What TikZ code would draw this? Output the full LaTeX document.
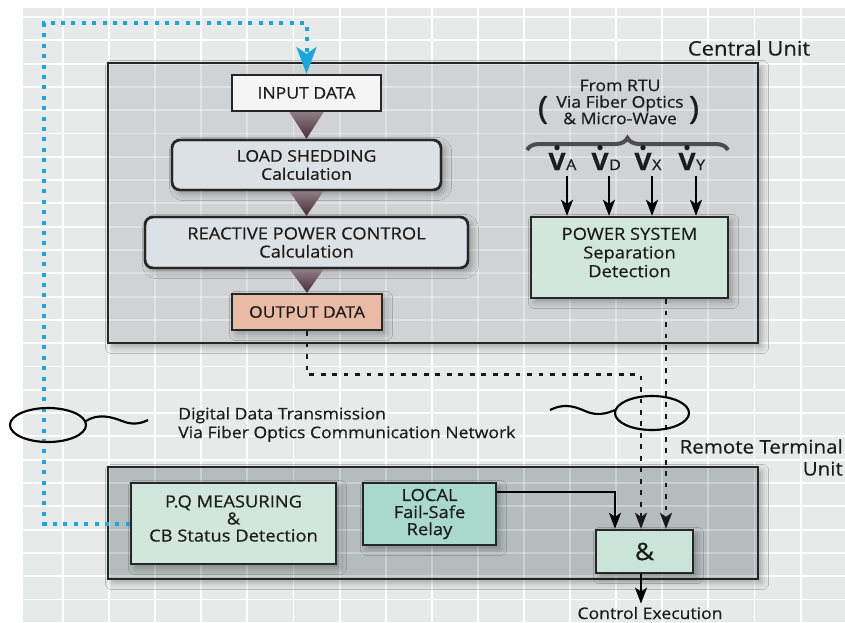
\documentclass[tikz,border=0pt]{standalone}
\usepackage{fontspec}
\setmainfont{Open Sans}[FakeStretch=1.1,FakeBold=0.5]
\usetikzlibrary{arrows.meta,decorations.pathreplacing,shadows.blur,calc,fit}
\definecolor{bg}{HTML}{E8EAEA}
\definecolor{cufill}{HTML}{CFD3D3}
\definecolor{rtufill}{HTML}{B5BDBC}
\definecolor{boxline}{HTML}{262626}
\definecolor{txt}{HTML}{1C1C1C}
\definecolor{lsfill}{HTML}{DCE1E5}
\definecolor{odfill}{HTML}{E9BBA5}
\definecolor{mint}{HTML}{D1E7DD}
\definecolor{teal}{HTML}{A9D9CC}
\definecolor{andfill}{HTML}{C9E5D9}
\definecolor{blueline}{HTML}{1AA7E0}
\definecolor{tritop}{HTML}{8E7E84}
\definecolor{tribot}{HTML}{4A2A36}
\newcommand\mygrid[1]{%
  \foreach \i in {0,...,17} \draw[white,line width=1.4pt,opacity=#1] ({63+46.1*\i},8) -- ({63+46.1*\i},622);
  \foreach \j in {0,...,25} \draw[white,line width=1.4pt,opacity=#1] (23,{17+23.3*\j}) -- (845,{17+23.3*\j});
}
\begin{document}
\begin{tikzpicture}[x=0.75pt,y=-0.75pt,
  box/.style={draw=boxline,line width=1.8pt,inner sep=0pt,align=center,text=txt},
  shad/.style={blur shadow={shadow xshift=3pt,shadow yshift=-3pt,shadow opacity=30,shadow blur radius=5pt}},
  bigbox/.style={draw=boxline,line width=1.4pt,inner sep=0pt},
  tri/.style={top color=tritop,bottom color=tribot},
  arr/.style={draw=black,line width=1.6pt,-{Stealth[length=12pt,width=9pt,inset=3pt]}},
  dotline/.style={draw=black!90,line width=2pt,dash pattern=on 3.6pt off 5pt,-{Stealth[length=12pt,width=9pt,inset=3pt]}},
  blue/.style={draw=blueline,line width=3pt,dash pattern=on 3pt off 4.8pt,-{Stealth[length=20pt,width=15pt,inset=5pt]}},
  lbl/.style={text=txt,inner sep=0pt,align=center},
  bt/.style={lbl,font=\fontsize{12}{13.6}\selectfont}]
\useasboundingbox (0,0) rectangle (845,622);
\clip (0,0) rectangle (845,622);
\fill[white] (0,0) rectangle (845,622);
\fill[bg] (23,8) rectangle (845,622);
\mygrid{1}
% big boxes
\node[bigbox,shad,fill=cufill,fit={(108,63) (758,343)}] (cu) {};
\node[bigbox,shad,fill=rtufill,fit={(108,467) (758,579)}] (rtu) {};
\begin{scope}
\clip (108,63) rectangle (758,343);
\mygrid{0.35}
\end{scope}
\begin{scope}
\clip (108,467) rectangle (758,579);
\mygrid{0.3}
\end{scope}
\draw[boxline,line width=1.4pt] (108,63) rectangle (758,343);
\draw[boxline,line width=1.4pt] (108,467) rectangle (758,579);
% labels of units
\node[lbl,font=\fontsize{15}{16}\selectfont] (cul) at (749,48) {Central Unit};
\node[lbl,anchor=north east,align=right,font=\fontsize{14}{16.5}\selectfont] (rtul) at (843,439) {Remote Terminal\\Unit};
% central boxes
\node[box,fit={(232,75) (381,111)},fill=white!96!black] (in) {};
\node[bt] at (in.center) {INPUT DATA};
\node[box,shad,rounded corners=6pt,fit={(172,140) (441,190)},fill=lsfill] (ls) {};
\node[bt] at (ls.center) {LOAD SHEDDING\\Calculation};
\node[box,shad,rounded corners=6pt,fit={(145,217) (468,268)},fill=lsfill] (rp) {};
\node[lbl,font=\fontsize{12.5}{13.6}\selectfont] at (rp.center) {REACTIVE POWER CONTROL\\Calculation};
\node[box,shad,fit={(232,294) (382,330)},fill=odfill] (od) {};
\node[bt] at (od.center) {OUTPUT DATA};
% triangles
\shade[tri] ($(in.south)+(-17,0)$) -- ($(in.south)+(17,0)$) -- (ls.north) -- cycle;
\shade[tri] ($(ls.south)+(-17,0)$) -- ($(ls.south)+(17,0)$) -- (rp.north) -- cycle;
\shade[tri] ($(rp.south)+(-17,0)$) -- ($(rp.south)+(17,0)$) -- (od.north) -- cycle;
\draw[boxline,line width=1.8pt] (232,75) rectangle (381,111);
\draw[boxline,line width=1.8pt,rounded corners=6pt] (172,140) rectangle (441,190);
\draw[boxline,line width=1.8pt,rounded corners=6pt] (145,217) rectangle (468,268);
\draw[boxline,line width=1.8pt] (232,294) rectangle (382,330);
% power system
\node[box,shad,fit={(531,217) (728,298)},fill=mint] (ps) {};
\node[lbl,font=\fontsize{12.5}{14}\selectfont] at ($(ps.center)+(0,-5)$) {POWER SYSTEM\\Separation\\Detection};
% From RTU
\node[lbl,font=\fontsize{12}{12.4}\selectfont] (rtu-t) at (620,102) {From RTU\\Via Fiber Optics\\\& Micro-Wave};
\node[lbl,font=\fontsize{24}{24}\selectfont] (lp) at (543,110) {(};
\node[lbl,font=\fontsize{24}{24}\selectfont] (rp2) at (694,110) {)};
\draw[black!70,line width=3pt,decorate,
  decoration={brace,amplitude=9pt}] (527,150) -- (728,150);
% V labels
\foreach \n/\x/\s in {a/557/A,d/600/D,x/643/X,y/687/Y}{
  \node[lbl,anchor=base,font=\fontsize{18}{18}\selectfont\bfseries] (v\n) at (\x,170) {V};
  \node[lbl,anchor=base west,font=\fontsize{11}{11}\selectfont] (s\n) at ($(v\n.base east)+(0,0)$) {\s};
  \fill[txt] ($(v\n.north)+(0,-5)$) circle (2.7);
}
\foreach \n/\x in {a/567,d/609,x/652,y/696}{
  \coordinate (c\n) at (\x,176);
  \draw[arr] (c\n) -- (c\n |- ps.north);
}
% RTU boxes
\node[box,shad,fit={(131,483) (336,564)},fill=mint] (pq) {};
\node[lbl,font=\fontsize{12.5}{12.8}\selectfont] at ($(pq.center)+(0,-5)$) {P.Q MEASURING\\\&\\CB Status Detection};
\node[box,shad,fit={(363,483) (496,545)},fill=teal] (lc) {};
\node[lbl,font=\fontsize{12.5}{12.8}\selectfont] at (lc.center) {LOCAL\\Fail-Safe\\Relay};
\node[box,shad,fit={(596,530) (693,573)},fill=andfill] (and) {};
\node[lbl,font=\fontsize{18}{18}\selectfont] at (and.center) {\&};
\coordinate (t1) at ($(and.north)+(-29.5,0)$);
\coordinate (t2) at ($(and.north)+(-3.5,0)$);
\coordinate (t3) at ($(and.north)+(21.5,0)$);
\node[lbl,font=\fontsize{12}{13}\selectfont] (ce) at (650,613) {Control Execution};
% connectors
\draw[dotline] (od.south) |- ($(t2)+(0,-154)$) -- (t2);
\draw[dotline] (t3 |- ps.south) -- (t3);
\draw[arr] ($(lc.north east)+(0,10)$) -| (t1);
\draw[arr] (t2 |- and.south) -- ($(ce.north -| t2)+(0,-3)$);
\draw[blue] (pq.west) -| (44,23) -| (in.north);
% ellipses and squiggles
\draw[black,line width=1.6pt] (48,425) ellipse [x radius=38, y radius=17];
\draw[black,line width=1.6pt] (652,413) ellipse [x radius=37, y radius=17];
\draw[black,line width=1.6pt] (86,421) .. controls (98,413) and (112,417) .. (122,421) .. controls (132,425) and (140,424) .. (148,420);
\draw[black,line width=1.6pt] (550,410) .. controls (562,404) and (572,405) .. (585,411) .. controls (596,416) and (606,414) .. (615,410);
\node[lbl,anchor=north west,align=left,font=\fontsize{12}{14}\selectfont] (dd) at (178,407) {Digital Data Transmission\\Via Fiber Optics Communication Network};
\end{tikzpicture}
\end{document}
